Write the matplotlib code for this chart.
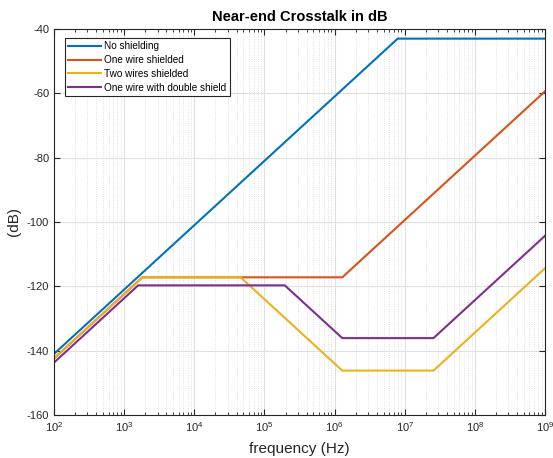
import matplotlib
matplotlib.use("Agg")
import matplotlib.pyplot as plt
import numpy as np

# breakpoints (frequency in Hz, level in dB)
f_none = [1e2, 10**6.9, 1e9]
db_none = [-141, -43, -43]

f_one = [1e2, 10**3.26, 10**6.11, 1e9]
db_one = [-142.4, -117.2, -117.2, -59.4]

f_two = [1e2, 10**3.26, 10**4.66, 10**6.11, 10**7.41, 1e9]
db_two = [-142.4, -117.2, -117.2, -146.2, -146.2, -114.4]

f_dbl = [1e2, 10**3.2, 10**5.29, 10**6.11, 10**7.41, 1e9]
db_dbl = [-143.7, -119.7, -119.7, -136.1, -136.1, -104.3]

labels = ["No shielding", "One wire shielded", "Two wires shielded",
          "One wire with double shield"]
colors = ["#0072BD", "#D95319", "#EDB120", "#7E2F8E"]

plt.rcParams['font.family'] = ['Liberation Sans', 'DejaVu Sans']
plt.rcParams['axes.unicode_minus'] = False

px = 1/100
fig = plt.figure(figsize=(553*px, 458*px), dpi=100)
ax = fig.add_axes([0.0977, 0.0939, 0.8878, 0.8428])

series = [(f_none, db_none), (f_one, db_one), (f_two, db_two), (f_dbl, db_dbl)]
for (f, d), lab, c in zip(series, labels, colors):
    ax.semilogx(f, d, color=c, lw=1.5, label=lab)

ax.set_xlim(1e2, 1e9)
ax.set_ylim(-160, -40)
ax.set_yticks(np.arange(-160, -39, 20))

ax.grid(True, which='major', color='#e0e0e0', lw=0.8, ls='-')
ax.grid(True, which='minor', color='#d8d8d8', lw=0.6, ls=':')
ax.set_axisbelow(True)

ax.tick_params(which='both', direction='in', top=True, right=True,
               labelsize=8, colors='#262626', labelcolor='#262626')
ax.tick_params(which='major', length=4)
ax.tick_params(which='minor', length=2)
for s in ax.spines.values():
    s.set_color('#262626')
    s.set_linewidth(0.8)

ax.set_xlabel("frequency (Hz)", fontsize=11, color='#262626', labelpad=6)
ax.set_ylabel("(dB)", fontsize=11, color='#262626', labelpad=4)
ax.set_title("Near-end Crosstalk in dB", fontsize=10.5, fontweight='bold', pad=6)

leg = ax.legend(loc='upper left', fontsize=7.2, fancybox=False, framealpha=1,
                edgecolor='#262626', bbox_to_anchor=(0.022, 0.977),
                borderaxespad=0, handlelength=3.3, labelspacing=0.38,
                borderpad=0.35, handletextpad=0.3)
leg.get_frame().set_linewidth(0.8)

fig.savefig("out.png", dpi=100)
